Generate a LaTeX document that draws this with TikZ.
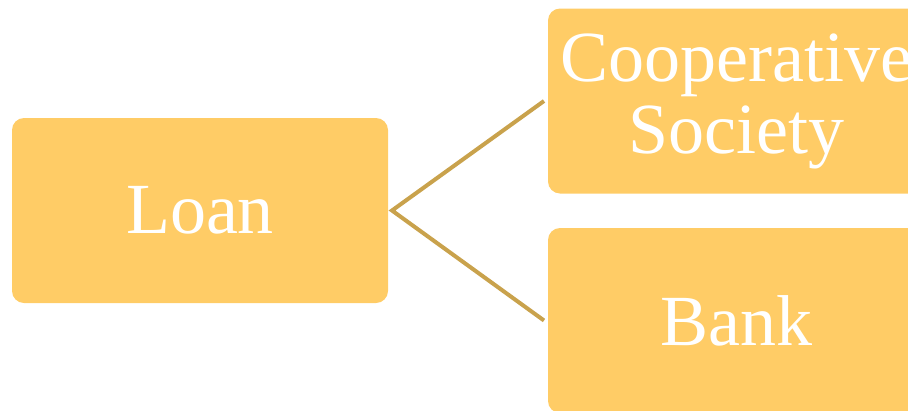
\documentclass[tikz,border=0pt]{standalone}
\usepackage{fontspec}
\setmainfont{Liberation Serif}
\definecolor{boxfill}{HTML}{FFCC66}
\definecolor{linkline}{HTML}{C9A24C}
\begin{document}
\begin{tikzpicture}[x=1pt,y=-1pt,
  entry/.style={fill=boxfill,rounded corners=12pt,minimum width=376pt,minimum height=185pt,
    outer sep=4pt,text=white,align=center,font=\fontsize{72}{72}\selectfont},
  link/.style={draw=linkline,line width=4pt}]
\useasboundingbox (0,0) rectangle (908,410);
\node[entry] (loan) at (200,210.5) {Loan};
\node[entry] (coop) at (736,101) {Cooperative\\Society};
\node[entry] (bank) at (736,320.5) {Bank};
\draw[link] (coop.west)--(loan.east)--(bank.west);
\end{tikzpicture}
\end{document}
